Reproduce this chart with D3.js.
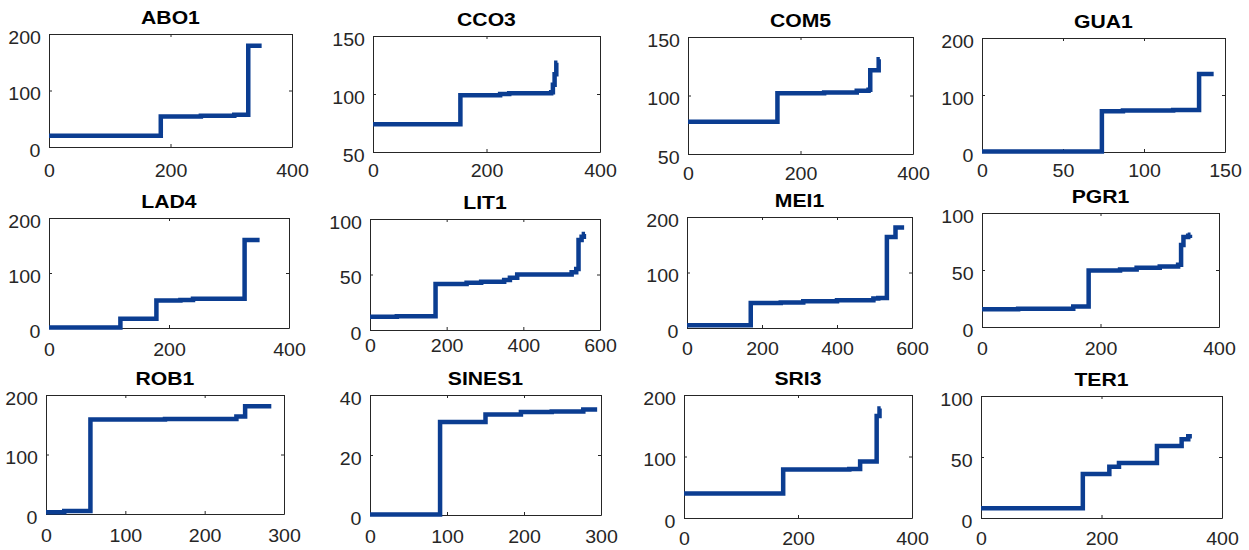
<!DOCTYPE html>
<html><head><meta charset="utf-8">
<script src="https://cdn.jsdelivr.net/npm/d3@7"></script>
<style>
html,body{margin:0;padding:0;background:#fff;}
svg text{font-family:Arial,"Liberation Sans",sans-serif;}
.tl{transform-box:fill-box;transform-origin:center;transform:scaleX(1.06);}
.tt{transform-box:fill-box;transform-origin:center;transform:scaleX(1.21);}
</style></head><body>
<svg id="c" width="1249" height="550"></svg>
<script>
// ---- data ----
const titles = ["ABO1","CCO3","COM5","GUA1","LAD4","LIT1","MEI1","PGR1","ROB1","SINES1","SRI3","TER1"];
const xTicks = [[0,200,400],[0,200,400],[0,200,400],[0,50,100,150],[0,200,400],[0,200,400,600],[0,200,400,600],[0,200,400],[0,100,200,300],[0,100,200,300],[0,200,400],[0,200,400]];
const yTicks = [[0,100,200],[50,100,150],[50,100,150],[0,100,200],[0,100,200],[0,50,100],[0,100,200],[0,50,100],[0,100,200],[0,20,40],[0,100,200],[0,50,100]];

const abo1 = [[0,20],[184,54],[250,55.5],[305,57],[328,179],[350,179]];
const cco3 = [[0,74],[154,99],[224,100],[240,100.6],[314,101.5],[317,108],[320,117],[323,127],[325,127]];
const com5 = [[0,77.5],[159,102],[242,102.5],[300,104],[321,105],[324,121.5],[339,131],[341,131]];
const gua1 = [[0,1],[74,71.5],[87,73],[118,73.5],[134,137],[143,137]];
const lad4 = [[0,1],[119,17],[179,50],[219,51],[240,53],[326,160],[351,160]];
const lit1 = [[0,12],[70,12.5],[171,41.5],[252,42.5],[290,43.5],[350,45],[365,47],[384,50],[526,52],[538,55],[544,81],[552,84],[558,86.5],[561,86.5]];
const mei1 = [[0,5],[170,45],[250,46],[310,48],[400,50],[497,53],[510,54],[533,164],[556,181],[579,181]];
const pgr1 = [[0,15.5],[61,16],[154,18],[180,49.5],[233,50.5],[261,52],[300,53],[331,54.5],[336,72],[340,79],[348,80],[351,81],[352,81]];
const rob1 = [[0,3],[23,5],[56,159],[150,159.5],[240,164],[251,181],[284,181]];
const sines1 = [[0,0.2],[91,31],[150,33.5],[196,34.3],[236,34.5],[277,35.2],[295,35.2]];
const sri3 = [[0,40],[174,79],[290,79.5],[309,92],[338,166],[343,178],[345,178]];
const ter1 = [[0,8],[169,36],[213,42],[229,45],[292,59],[333,64.5],[344,67],[350,67]];
const series = [abo1,cco3,com5,gua1,lad4,lit1,mei1,pgr1,rob1,sines1,sri3,ter1];

// ---- layout ----
const boxes = [[49,34,292,147],[373,36,600,152],[688,37,913,154],[982,38,1225,152],
               [49,218,289,328],[370,219,600,330],[687,217,912,328],[982,213,1219,327],
               [46,395,284,514],[370,395,601,515],[684,395,912,518],[981,396,1222,518]];
const xLabelOffset = [30,25,26,25,28,22,27,28,28,28,27,27];

const svg = d3.select("#c");
const axisColor = "#262626";
const lineColor = "#0b3d91";

series.forEach((data,i)=>{
  const [l,t,r,b] = boxes[i];
  const xt = xTicks[i], yt = yTicks[i];
  const x = d3.scaleLinear().domain([xt[0], xt[xt.length-1]]).range([l,r]);
  const y = d3.scaleLinear().domain([yt[0], yt[yt.length-1]]).range([b,t]);
  const g = svg.append("g");

  const styleAxis = sel => {
    sel.selectAll("path,line").attr("stroke",axisColor).attr("stroke-width",1);
  };

  // bottom
  const gb = g.append("g").attr("transform",`translate(0,${b})`)
    .call(d3.axisBottom(x).tickValues(xt).tickSizeInner(-3).tickSizeOuter(0).tickFormat(d3.format("d")));
  styleAxis(gb);
  gb.selectAll("text").attr("y",xLabelOffset[i]).attr("dy",0)
    .attr("font-size",18.5).attr("fill",axisColor).attr("class","tl");
  // left
  const gl = g.append("g").attr("transform",`translate(${l},0)`)
    .call(d3.axisLeft(y).tickValues(yt).tickSizeInner(-3).tickSizeOuter(0).tickFormat(d3.format("d")));
  styleAxis(gl);
  gl.selectAll("text").attr("x",-9).attr("dy","0.5em")
    .attr("font-size",18.5).attr("fill",axisColor).attr("class","tl");
  // top
  const gt = g.append("g").attr("transform",`translate(0,${t})`)
    .call(d3.axisTop(x).tickValues(xt).tickSizeInner(-3).tickSizeOuter(0).tickFormat(""));
  styleAxis(gt);
  // right
  const gr = g.append("g").attr("transform",`translate(${r},0)`)
    .call(d3.axisRight(y).tickValues(yt).tickSizeInner(-3).tickSizeOuter(0).tickFormat(""));
  styleAxis(gr);

  // title
  g.append("text").attr("x",(l+r)/2).attr("y",t-10).attr("text-anchor","middle")
    .attr("font-size",17.5).attr("font-weight","bold").attr("fill","#000")
    .attr("class","tt").text(titles[i]);

  // line
  const line = d3.line().x(d=>x(d[0])).y(d=>y(d[1])).curve(d3.curveStepAfter);
  g.append("path").datum(data).attr("d",line).attr("fill","none")
    .attr("stroke",lineColor).attr("stroke-width",4.5).attr("stroke-linejoin","miter");
});
</script>
</body></html>
